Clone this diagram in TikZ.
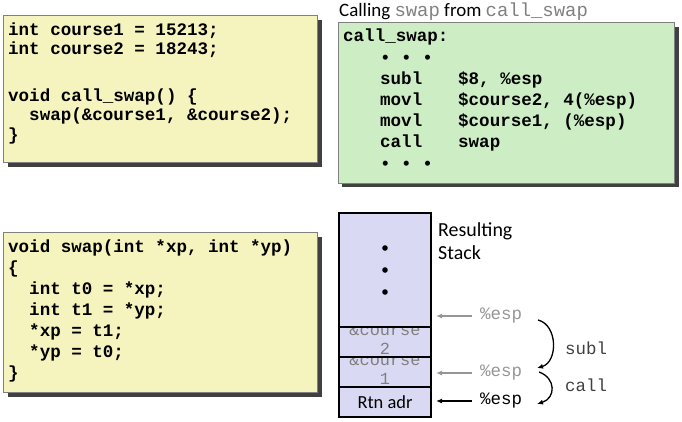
\documentclass[tikz,border=0pt]{standalone}
\usepackage{fontspec}
\newfontfamily\cmono{Liberation Mono}
\newfontfamily\csans{Carlito}
\usetikzlibrary{positioning,arrows.meta}

\definecolor{codeyellow}{RGB}{246,244,190}
\definecolor{codegreen}{RGB}{205,238,197}
\definecolor{stackblue}{RGB}{217,217,243}
\definecolor{boxgray}{RGB}{128,128,128}
\definecolor{shadowgray}{RGB}{64,64,64}
\definecolor{espgray}{RGB}{150,150,150}
\definecolor{labelgray}{RGB}{64,64,64}

\newcommand{\ind}{\hspace*{37bp}}
\newcommand{\op}[1]{\makebox[78bp][l]{#1}}

\tikzset{
    codebox/.style={draw=boxgray, line width=1bp, inner sep=0pt, outer sep=0pt, anchor=north west},
    codetext/.style={anchor=base west, align=left, inner sep=0pt, font=\cmono\bfseries\fontsize{17.6}{#1}\selectfont},
    cell/.style={draw=black, line width=1.6bp, fill=stackblue, minimum width=92bp, inner sep=0pt, outer sep=0pt},
    addr/.style={align=center, inner sep=0pt, text=gray, font=\cmono\fontsize{17}{19}\selectfont},
    esp/.style={anchor=west, inner sep=0pt, font=\cmono\fontsize{17.5}{20}\selectfont},
    esparrow/.style={line width=1.3bp, -{Latex[length=6bp,width=5bp]}, shorten <=8bp},
    brace/.style={line width=1.3bp, -{Latex[length=6bp,width=5bp]}},
    oplabel/.style={anchor=west, inner sep=0pt, text=labelgray, font=\cmono\fontsize{17.5}{20}\selectfont}
}

\begin{document}
\begin{tikzpicture}[x=1bp, y=-1bp]
    \useasboundingbox (0,0) rectangle (682,421);

    % globals and call_swap (anchored at the baseline of the last line)
    \fill[shadowgray] (8,20) rectangle (322,167);
    \node[codebox, fill=codeyellow, minimum width=314bp, minimum height=147bp] (cbox) at (3,15) {};
    \node[codetext=19.5bp] (ccode) at (8,140) {int course1 = 15213;\\
int course2 = 18243;\\[27bp]
void call\_swap() \{\\
~~swap(\&course1, \&course2);\\
\}};

    % swap
    \fill[shadowgray] (8,237) rectangle (322,397);
    \node[codebox, fill=codeyellow, minimum width=314bp, minimum height=160bp] (sbox) at (3,232) {};
    \node[codetext=21bp] (scode) at (8,378) {void swap(int *xp, int *yp)\\
\{\\
~~int t0 = *xp;\\
~~int t1 = *yp;\\
~~*xp = t1;\\
~~*yp = t0;\\
\}};

    % assembly
    \node[anchor=base west, inner sep=0pt, font=\csans\fontsize{19}{23}\selectfont] (title) at (339,16)
        {Calling \textcolor{gray}{\cmono swap} from \textcolor{gray}{\cmono call\_swap}};
    \fill[shadowgray] (342,27) rectangle (679,187);
    \node[codebox, fill=codegreen, minimum width=336bp, minimum height=161bp] (abox) at (338,22) {};
    \node[codetext=21.2bp] (acode) at (343,169) {call\_swap:\\
\ind• • •\\
\ind\op{subl}\$8, \%esp\\
\ind\op{movl}\$course2, 4(\%esp)\\
\ind\op{movl}\$course1, (\%esp)\\
\ind\op{call}swap\\
\ind• • •};

    % stack
    \node[cell, minimum height=114bp] (stk) at (385,270) {};
    \node[cell, minimum height=30bp, below=0pt of stk] (c2) {};
    \node[cell, minimum height=30bp, below=0pt of c2] (c1) {};
    \node[cell, minimum height=30bp, below=0pt of c1, font=\csans\fontsize{18.5}{21}\selectfont] (rtn) {Rtn adr};
    \foreach \dy in {-22,0,22}
        \fill ([yshift=\dy bp]stk.center) circle (2.8bp);

    \begin{scope}
        \clip (c2.north west) rectangle (c2.south east);
        \node[addr] (a2) at ([yshift=3bp]c2.center) {\&course\\2};
    \end{scope}
    \begin{scope}
        \clip (c1.north west) rectangle (c1.south east);
        \node[addr] (a1) at ([yshift=3bp]c1.center) {\&course\\1};
    \end{scope}
    \draw[line width=1.6bp] (c2.north west) rectangle (c2.south east);
    \draw[line width=1.6bp] (c1.north west) rectangle (c1.south east);

    \node[anchor=base west, align=left, inner sep=0pt, font=\csans\fontsize{20}{23}\selectfont] (res) at (438,259) {Resulting\\Stack};

    % stack pointer
    \node[esp, text=espgray] (esp1) at (480,316) {\%esp};
    \node[esp, text=espgray] (esp2) at (480,373) {\%esp};
    \node[esp] (esp3) at (480,401) {\%esp};
    \coordinate (p1) at (436,316);
    \coordinate (p2) at (436,373);
    \coordinate (p3) at (436,401);
    \draw[esparrow, espgray] (esp1) -- (p1);
    \draw[esparrow, espgray] (esp2) -- (p2);
    \draw[esparrow] (esp3) -- (p3);

    \coordinate (s1) at (538,320);
    \coordinate (s2) at (537,368);
    \coordinate (s3) at (539,372);
    \coordinate (s4) at (537,404);
    \draw[brace] (s1) .. controls (558,325) and (558,362) .. (s2);
    \draw[brace] (s3) .. controls (556,378) and (556,398) .. (s4);

    \node[oplabel] (subl) at (565,348) {subl};
    \node[oplabel] (call) at (565,385) {call};
\end{tikzpicture}
\end{document}
